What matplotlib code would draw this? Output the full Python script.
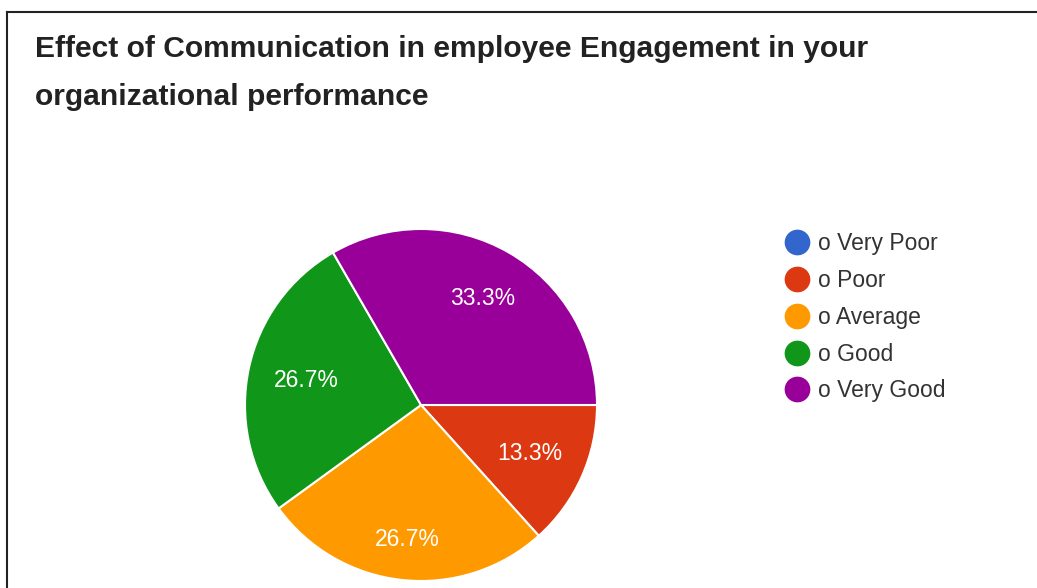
import numpy as np
import matplotlib.pyplot as plt
from matplotlib.lines import Line2D

plt.rcParams['font.family'] = ['Liberation Sans', 'DejaVu Sans']

# survey responses
categories = ['o Very Poor', 'o Poor', 'o Average', 'o Good', 'o Very Good']
counts = [0, 2, 4, 4, 5]
colors = ['#3366cc', '#dc3912', '#ff9900', '#109618', '#990099']
# how far out each percentage sits, as a fraction of the radius
label_dist = [0.7, 0.675, 0.77, 0.665, 0.70]

W, H = 1037, 588
fig = plt.figure(figsize=(W / 100, H / 100), dpi=100)

# pie axes: centre (421, 405) px, radius 176 px
cx, cy, r = 421, 405, 176
ax = fig.add_axes([(cx - r) / W, (H - cy - r) / H, 2 * r / W, 2 * r / H])


def pct_label(p):
    return f'{p:.1f}%' if p > 0.5 else ''


wedges, texts, autotexts = ax.pie(
    counts, colors=colors, startangle=0, counterclock=False,
    autopct=pct_label, pctdistance=0.7,
    wedgeprops=dict(edgecolor='white', linewidth=1.5),
    textprops=dict(color='white', fontsize=16.5))
for w, t, d in zip(wedges, autotexts, label_dist):
    mid = np.deg2rad((w.theta1 + w.theta2) / 2)
    t.set_position((d * np.cos(mid), d * np.sin(mid)))
ax.set_xlim(-1, 1)
ax.set_ylim(-1, 1)
ax.set_aspect('equal')

# title
fig.text(35 / W, 1 - 35 / H,
         'Effect of Communication in employee Engagement in your\norganizational performance',
         fontsize=21.6, fontweight='bold', color='#222222', va='top', ha='left',
         linespacing=1.9)

# legend
handles = [Line2D([], [], marker='o', linestyle='none', markersize=17.5,
                  markerfacecolor=c, markeredgecolor=c) for c in colors]
fig.legend(handles, categories, loc='upper left',
           bbox_to_anchor=(771 / W, 1 - 221 / H), frameon=False,
           fontsize=16.5, labelcolor='#333333', labelspacing=0.6,
           handletextpad=0.24, handlelength=1.3, borderpad=0)

# frame lines on the left and top
fig.add_artist(Line2D([7 / W, 7 / W], [0, 1 - 12 / H], color='#222222', linewidth=1.5))
fig.add_artist(Line2D([7 / W, 1], [1 - 12 / H, 1 - 12 / H], color='#222222', linewidth=1.5))

fig.savefig('out.png', dpi=100, facecolor='white')
